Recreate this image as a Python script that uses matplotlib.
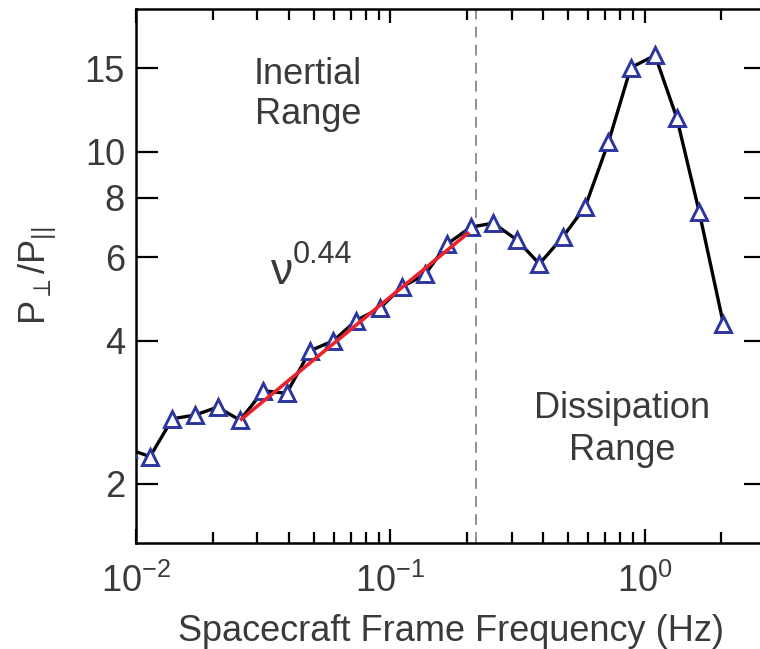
import matplotlib
matplotlib.use("Agg")
import matplotlib.pyplot as plt
from matplotlib.ticker import FixedLocator, FixedFormatter, LogLocator, NullLocator, NullFormatter
import numpy as np

plt.rcParams['font.family'] = ['Liberation Sans', 'DejaVu Sans']
plt.rcParams['mathtext.fontset'] = 'custom'
plt.rcParams['mathtext.rm'] = 'Liberation Sans'
plt.rcParams['mathtext.it'] = 'Liberation Sans'
plt.rcParams['mathtext.default'] = 'regular'

# Data
freq = [0.0093, 0.01135, 0.0139, 0.01706, 0.02094, 0.02566, 0.03166, 0.0391, 0.0483,
        0.0597, 0.0733, 0.0911, 0.1109, 0.1369, 0.1675, 0.207, 0.254, 0.314, 0.3855,
        0.476, 0.584, 0.72, 0.882, 1.099, 1.337, 1.64, 2.04]
ratio = [2.37, 2.28, 2.74, 2.79, 2.90, 2.72, 3.14, 3.10, 3.81,
         4.00, 4.41, 4.69, 5.19, 5.52, 6.40, 6.94, 7.08, 6.53, 5.81,
         6.61, 7.67, 10.47, 15.05, 15.97, 11.8, 7.46, 4.34]

fit_range = [0.02566, 0.204]
fit_exponent = 0.44
fit_anchor = 2.72
break_freq = 0.217

yticks = [2, 4, 6, 8, 10, 15]
ytick_labels = ['2', '4', '6', '8', '10', '15']

text_color = '#3a3a3a'
fs = 26

fig = plt.figure(figsize=(7.6, 6.49), dpi=100)
ax = fig.add_axes([136/760, (649-543)/649, (766-136)/760, (543-9)/649])

ax.set_xscale('log')
ax.set_yscale('log')
ax.set_xlim(0.01, 3)
ax.set_ylim(1.5, 20)

ax.plot(freq, ratio, color='black', lw=2.4, marker='^', ms=12,
        mfc='white', mec='#2a35a0', mew=2.1, zorder=3)

ff = np.array(fit_range)
ax.plot(ff, fit_anchor * (ff / fit_range[0]) ** fit_exponent, color='#e8232b',
        lw=2.6, zorder=4, solid_capstyle='butt')

ax.axvline(break_freq, color='#888888', lw=1.3, ls=(0, (6, 4)), zorder=2)

ax.yaxis.set_major_locator(FixedLocator(yticks))
ax.yaxis.set_major_formatter(FixedFormatter(ytick_labels))
ax.yaxis.set_minor_locator(NullLocator())
ax.yaxis.set_minor_formatter(NullFormatter())
ax.xaxis.set_major_locator(LogLocator(base=10, numticks=10))
ax.xaxis.set_minor_locator(LogLocator(base=10, subs=np.arange(2, 10), numticks=20))
ax.xaxis.set_minor_formatter(NullFormatter())

ax.tick_params(axis='both', which='both', direction='in', top=True, right=True,
               colors='black', labelcolor=text_color, labelsize=fs, width=1.6)
ax.tick_params(axis='y', which='major', length=16, pad=8)
ax.tick_params(axis='x', which='major', length=10, pad=15)
ax.tick_params(axis='x', which='minor', length=8)
for s in ax.spines.values():
    s.set_linewidth(1.8)

ax.set_xlabel('Spacecraft Frame Frequency (Hz)', fontsize=fs, color=text_color, labelpad=10)
ax.set_ylabel(r'$\mathregular{P_{\perp}/P_{||}}$', fontsize=fs, color=text_color, labelpad=19)

ax.text(0.0475, 13.2, 'Inertial\nRange', ha='center', va='center', fontsize=fs,
        color=text_color, linespacing=1.2)
ax.text(0.815, 2.6, 'Dissipation\nRange', ha='center', va='center', fontsize=fs,
        color=text_color, linespacing=1.25)
ax.text(0.03365, 5.28, '\u03bd', ha='left', va='baseline', fontsize=32, color=text_color)
ax.text(0.04144, 5.82, '0.44', ha='left', va='baseline', fontsize=22, color=text_color)

fig.savefig('out.png', dpi=100)
